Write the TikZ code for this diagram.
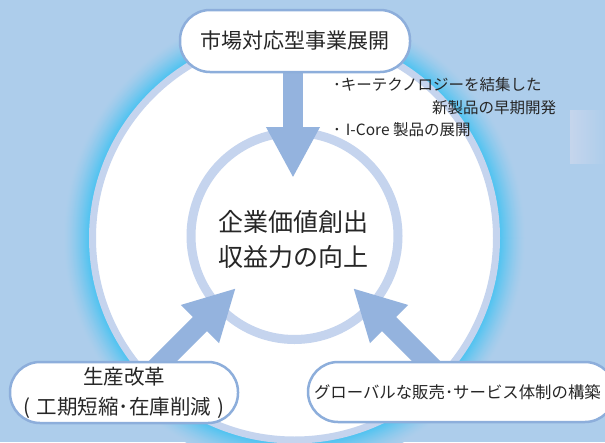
\documentclass[tikz,border=0pt]{standalone}
\usepackage{fontspec}
\newfontfamily\jp{Noto Sans CJK JP}
\usetikzlibrary{arrows.meta,calc}
\definecolor{bgc}{HTML}{ADCDEB}
\definecolor{glowc}{HTML}{4EC3F1}
\definecolor{ringc}{HTML}{C5D4EE}
\definecolor{arrowc}{HTML}{94B3DE}
\definecolor{boxc}{HTML}{8DAEDB}
\definecolor{txtc}{HTML}{262626}
\definecolor{panelc}{HTML}{C5D5EC}
\pgfdeclarelayer{back}
\pgfdeclarelayer{mid}
\pgfsetlayers{back,mid,main}
\tikzset{
  pill/.style={draw=boxc, line width=2.5pt, fill=white, rounded corners=30pt,
    text=txtc, align=center, inner sep=0pt},
  bigarrow/.style={draw=arrowc, line width=20pt,
    -{Triangle[length=51pt 0 0, width=50pt 0 0, fill=arrowc]}},
  note/.style={text=txtc, anchor=west, inner sep=0pt, font=\jp\fontsize{15.5}{15.5}\selectfont},
  centertext/.style={text=txtc, align=center, inner sep=0pt,
    font=\jp\fontsize{25}{35}\selectfont}
}
\begin{document}
\begin{tikzpicture}[x=1pt,y=-1pt]
\useasboundingbox (0,0) rectangle (605,442);
\begin{pgfonlayer}{back}
\clip (0,0) rectangle (605,442);
\fill[bgc] (0,0) rectangle (605,442);
\shade[left color=panelc, right color=bgc] (570,110) rectangle (605,163);
% glow around the big circle
\foreach \i in {26,25,...,0}{
  \pgfmathsetmacro\pct{100*(1-\i/26)^1.4}
  \fill[glowc!\pct!bgc] (294.5,238) circle[radius=205.5pt+\i pt];
}
\fill[white] (294.5,238) circle[radius=202pt];
\draw[ringc, line width=7pt] (294.5,238) circle[radius=202pt];
% inner ring
\draw[ringc, line width=9pt] (294.5,236) circle[radius=103.5pt];
\end{pgfonlayer}

% boxes
\node[pill, minimum width=230pt, minimum height=62pt,
  font=\jp\fontsize{21}{21}\selectfont] (top) at (295,41) {市場対応型事業展開};
\node[pill, minimum width=228pt, minimum height=61pt,
  font=\jp\fontsize{20.5}{30}\selectfont] (bl) at (124,392.5)
  {生産改革\\(\hspace{6pt}工期短縮･在庫削減\hspace{6pt})};
\node[pill, minimum width=307pt, minimum height=60pt, text width=300pt,
  font=\jp\fontsize{16.4}{16.4}\selectfont] (br) at (461.5,392)
  {\hspace*{-3pt}\makebox[300pt][l]{\hspace{4pt}グローバルな販売･サービス体制の構築}};

% center text
\node[centertext] (center) at (293.5,240) {企業価値創出\\収益力の向上};

% notes
\node[note] (n1) at (333,85) {･キーテクノロジーを結集した};
\node[note] (n2) at (432,108) {新製品の早期開発};
\node[note] (n3) at (333,130) {･\hspace{5pt}I-Core 製品の展開};

% arrows
\coordinate (t0) at (293,178);
\coordinate (t1) at (236,288);
\coordinate (t2) at (353,288);
\coordinate (s1) at ($(t1)+(-100,100)$);
\coordinate (s2) at ($(t2)+(100,100)$);
\begin{pgfonlayer}{mid}
\draw[bigarrow] (top.south -| t0) -- (t0);
\draw[bigarrow] (s1) -- (t1);
\draw[bigarrow] (s2) -- (t2);
\end{pgfonlayer}
\end{tikzpicture}
\end{document}
